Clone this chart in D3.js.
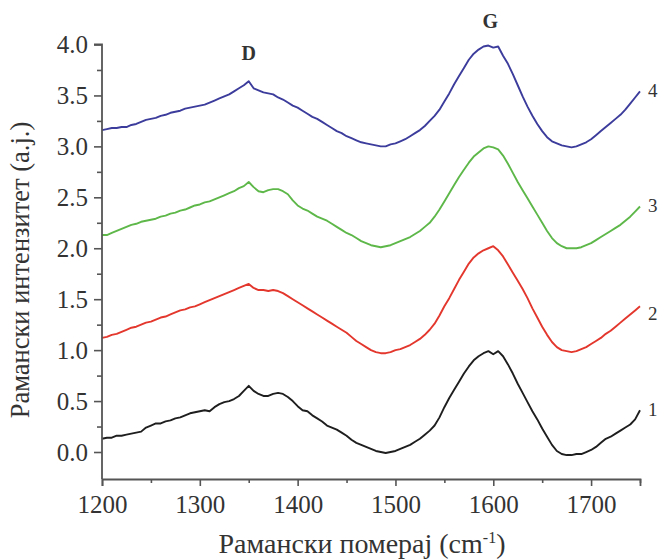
<!DOCTYPE html>
<html>
<head>
<meta charset="utf-8">
<script src="https://cdn.jsdelivr.net/npm/d3@7"></script>
<style>
  html, body { margin: 0; padding: 0; background: #fff; }
  svg { display: block; }
  svg text { font-family: "Liberation Serif", "Times New Roman", serif; fill: #333; }
</style>
</head>
<body>
<svg id="chart" width="662" height="559"></svg>
<script>
// Raman shift sampling (cm^-1), one reading every 5 cm^-1
const shift = d3.range(1200, 1751, 5);

// Stacked Raman spectra, each offset by 1.0 a.u.
const spectrum1 = [
  0.13,0.14,0.14,0.16,0.16,0.17,0.18,0.19,0.20,0.24,0.26,0.28,0.28,0.30,0.31,0.33,0.34,0.36,0.38,0.39,
  0.40,0.41,0.40,0.44,0.47,0.49,0.50,0.52,0.55,0.60,0.65,0.60,0.57,0.55,0.55,0.57,0.58,0.57,0.54,0.50,
  0.45,0.41,0.40,0.36,0.33,0.30,0.26,0.24,0.22,0.19,0.16,0.12,0.09,0.07,0.05,0.03,0.01,0.00,-0.01,0.00,
  0.01,0.03,0.05,0.07,0.10,0.13,0.17,0.21,0.26,0.34,0.44,0.53,0.61,0.69,0.77,0.84,0.90,0.94,0.97,0.99,
  0.96,0.99,0.94,0.86,0.77,0.67,0.58,0.49,0.40,0.32,0.23,0.15,0.07,0.01,-0.02,-0.03,-0.03,-0.02,-0.02,0.00,
  0.02,0.05,0.09,0.13,0.15,0.18,0.21,0.24,0.27,0.32,0.41
];
const spectrum2 = [
  1.12,1.13,1.15,1.16,1.18,1.20,1.22,1.23,1.25,1.27,1.28,1.30,1.32,1.33,1.35,1.37,1.39,1.40,1.42,1.43,
  1.45,1.47,1.49,1.51,1.53,1.55,1.57,1.59,1.61,1.63,1.65,1.61,1.59,1.59,1.58,1.59,1.58,1.56,1.53,1.50,
  1.47,1.44,1.41,1.38,1.35,1.32,1.29,1.26,1.23,1.20,1.17,1.13,1.09,1.06,1.03,1.00,0.98,0.97,0.97,0.98,
  1.00,1.01,1.03,1.05,1.08,1.11,1.15,1.20,1.26,1.34,1.43,1.51,1.60,1.69,1.77,1.85,1.91,1.95,1.98,2.00,
  2.02,1.98,1.92,1.84,1.76,1.68,1.60,1.51,1.41,1.32,1.23,1.15,1.08,1.03,1.00,0.99,0.98,0.99,1.01,1.03,
  1.06,1.09,1.12,1.16,1.19,1.23,1.27,1.31,1.35,1.39,1.43
];
const spectrum3 = [
  2.13,2.13,2.15,2.17,2.19,2.21,2.23,2.24,2.26,2.27,2.28,2.29,2.31,2.32,2.34,2.35,2.37,2.38,2.40,2.42,
  2.43,2.45,2.46,2.48,2.50,2.52,2.54,2.56,2.59,2.61,2.65,2.60,2.56,2.55,2.57,2.58,2.58,2.56,2.53,2.47,
  2.42,2.39,2.37,2.34,2.31,2.29,2.27,2.24,2.21,2.18,2.15,2.13,2.10,2.07,2.05,2.03,2.02,2.01,2.02,2.03,
  2.05,2.07,2.09,2.11,2.14,2.17,2.21,2.25,2.31,2.38,2.46,2.54,2.62,2.70,2.77,2.84,2.90,2.94,2.98,3.00,
  2.99,2.97,2.91,2.83,2.74,2.65,2.57,2.49,2.41,2.33,2.25,2.17,2.10,2.05,2.02,2.00,2.00,2.00,2.01,2.03,
  2.05,2.08,2.11,2.14,2.17,2.20,2.23,2.27,2.31,2.36,2.41
];
const spectrum4 = [
  3.16,3.17,3.18,3.18,3.19,3.19,3.21,3.22,3.24,3.26,3.27,3.28,3.30,3.31,3.33,3.34,3.35,3.37,3.38,3.39,
  3.40,3.41,3.43,3.45,3.47,3.49,3.51,3.54,3.57,3.60,3.64,3.57,3.55,3.53,3.52,3.51,3.48,3.46,3.43,3.40,
  3.38,3.35,3.32,3.29,3.27,3.24,3.21,3.18,3.15,3.13,3.10,3.08,3.06,3.04,3.03,3.02,3.01,3.00,3.00,3.02,
  3.03,3.05,3.07,3.10,3.13,3.16,3.20,3.25,3.30,3.36,3.44,3.52,3.61,3.69,3.77,3.85,3.91,3.95,3.98,3.99,
  3.97,3.98,3.89,3.81,3.71,3.60,3.49,3.39,3.30,3.22,3.15,3.09,3.05,3.03,3.01,3.00,2.99,3.00,3.02,3.04,
  3.07,3.11,3.15,3.19,3.23,3.27,3.31,3.36,3.42,3.48,3.54
];

const seriesNames = ["1", "2", "3", "4"];
const seriesColors = ["#1e1e1e", "#e3372d", "#5db849", "#3c3c9c"];
const seriesValues = [spectrum1, spectrum2, spectrum3, spectrum4];

const xTicks = [1200, 1300, 1400, 1500, 1600, 1700];
const yTicks = [0.0, 0.5, 1.0, 1.5, 2.0, 2.5, 3.0, 3.5, 4.0];
const bandNames = ["D", "G"];
const bandPositions = [1350, 1597];

const xTitle = "Рамански померај (cm";
const yTitle = "Рамански интензитет (a.j.)";

const serif = "'Liberation Serif', 'Times New Roman', serif";
const svg = d3.select("#chart");
const plot = { left: 102, right: 640, top: 44.5, bottom: 479 };

const x = d3.scaleLinear().domain([1200, 1750]).range([plot.left, plot.right]);
const y = d3.scaleLinear().domain([-0.265, 4.0]).range([plot.bottom, plot.top]);

// Spectra
const line = d3.line()
  .x((d, i) => x(shift[i]))
  .y(d => y(d));

seriesValues.forEach((vals, k) => {
  svg.append("path")
    .datum(vals)
    .attr("d", line)
    .attr("fill", "none")
    .attr("stroke", seriesColors[k])
    .attr("stroke-width", 1.9)
    .attr("stroke-linejoin", "round");
});

// X axis: major ticks every 100, minor every 50
const xMinor = svg.append("g").attr("transform", `translate(0,${plot.bottom})`)
  .call(d3.axisBottom(x).tickValues(d3.range(1250, 1751, 100)).tickSize(4).tickFormat(""));
xMinor.select(".domain").remove();
const xMajor = svg.append("g").attr("transform", `translate(0,${plot.bottom})`)
  .attr("font-family", serif)
  .call(d3.axisBottom(x).tickValues(xTicks).tickSize(7).tickPadding(9).tickFormat(d3.format("d")));
xMajor.attr("font-family", serif);
xMajor.select(".domain").attr("stroke", "#555").attr("stroke-width", 1.8);
xMajor.selectAll("text").attr("font-size", 25).attr("fill", "#444").attr("font-family", serif);

// Y axis: major ticks every 0.5, minor every 0.25
const yMinor = svg.append("g").attr("transform", `translate(${plot.left},0)`)
  .call(d3.axisLeft(y).tickValues(d3.range(0.25, 4.0, 0.5)).tickSize(5).tickFormat(""));
yMinor.select(".domain").remove();
const yMajor = svg.append("g").attr("transform", `translate(${plot.left},0)`)
  .call(d3.axisLeft(y).tickValues(yTicks).tickSize(8).tickPadding(6).tickFormat(d3.format(".1f")));
yMajor.attr("font-family", serif);
yMajor.select(".domain").attr("stroke", "#555").attr("stroke-width", 1.8)
  .attr("d", `M-8,${y(4.0)}H0V${plot.bottom}`);
yMajor.selectAll("text").attr("font-size", 25).attr("fill", "#444").attr("font-family", serif);

svg.selectAll("g line").attr("stroke", "#555").attr("stroke-width", 1.6);

// Band labels
svg.selectAll("text.band")
  .data(bandNames)
  .join("text")
  .attr("class", "band")
  .attr("x", (d, i) => x(bandPositions[i]))
  .attr("y", (d, i) => i === 0 ? 60 : 28)
  .attr("text-anchor", "middle")
  .attr("font-size", 20)
  .attr("font-weight", "bold")
  .text(d => d);

// Spectrum numbers at the right end (label 2 sits a little below its line end)
const nameShift = [0, 8, 0, 0];
svg.selectAll("text.sname")
  .data(seriesNames)
  .join("text")
  .attr("class", "sname")
  .attr("x", x(1750) + 8)
  .attr("y", (d, i) => y(seriesValues[i][seriesValues[i].length - 1]) + 6 + nameShift[i])
  .attr("font-size", 19)
  .text(d => d);

// Axis titles
const xt = svg.append("text")
  .attr("x", 362)
  .attr("y", 553)
  .attr("text-anchor", "middle")
  .attr("font-family", serif)
  .attr("font-size", 28);
xt.append("tspan").text(xTitle);
xt.append("tspan").attr("font-size", 16).attr("dy", -10).text("-1");
xt.append("tspan").attr("dy", 10).text(")");

svg.append("text")
  .attr("transform", "translate(29,270) rotate(-90)")
  .attr("text-anchor", "middle")
  .attr("font-family", serif)
  .attr("font-size", 26.5)
  .text(yTitle);
</script>
</body>
</html>
